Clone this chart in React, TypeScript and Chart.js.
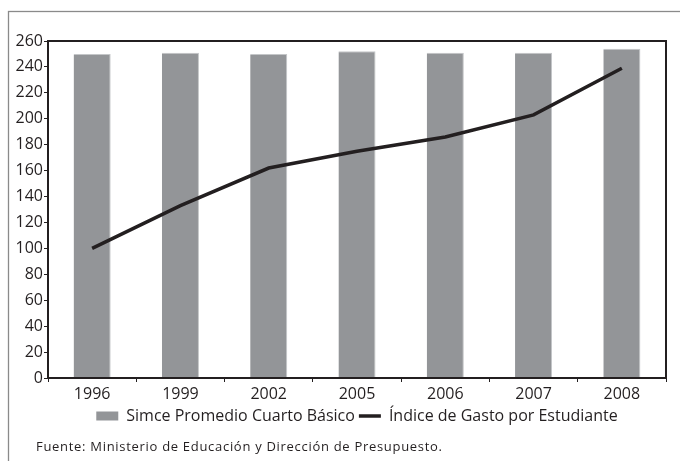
import { useEffect, useRef } from "react";
import { Chart, registerables } from "chart.js";
Chart.register(...registerables);

const years = ["1996", "1999", "2002", "2005", "2006", "2007", "2008"];
const simce = [250, 251, 250, 252, 251, 251, 254];
const gasto = [100, 133, 162, 175, 186, 203, 239];
const seriesNames = ["Simce Promedio Cuarto Básico", "Índice de Gasto por Estudiante"];
const footnote = "Fuente: Ministerio de Educación y Dirección de Presupuesto.";

const FONT = "'Open Sans', 'Noto Sans', sans-serif";
const INK = "#231f20";

const decor = {
  id: "decor",
  beforeDraw(chart: any) {
    const ctx = chart.ctx;
    ctx.save();
    ctx.strokeStyle = "#8a8a8a";
    ctx.lineWidth = 1.3;
    ctx.strokeRect(8.5, 11.5, 720, 500);
    ctx.fillStyle = INK;
    ctx.font = "13px " + FONT;
    (ctx as any).letterSpacing = "0.7px";
    ctx.textBaseline = "middle";
    ctx.textAlign = "left";
    ctx.fillText(footnote, 36, 447);
    ctx.restore();
  },
  afterDatasetsDraw(chart: any) {
    const { left, top, right, bottom } = chart.chartArea;
    const ctx = chart.ctx;
    ctx.save();
    ctx.strokeStyle = INK;
    ctx.lineWidth = 2;
    ctx.strokeRect(left, top, right - left, bottom - top);
    ctx.restore();
  },
};

export default function App() {
  const ref = useRef<HTMLCanvasElement | null>(null);
  useEffect(() => {
    if (!ref.current) return;
    const chart = new Chart(ref.current, {
      type: "bar",
      data: {
        labels: years,
        datasets: [
          {
            type: "bar",
            label: seriesNames[0],
            data: simce,
            backgroundColor: "#939598",
            borderColor: "#c4c6c8",
            borderWidth: { top: 1, right: 1, left: 0, bottom: 0 },
            categoryPercentage: 1,
            barPercentage: 0.42,
            order: 1,
          },
          {
            type: "line",
            label: seriesNames[1],
            data: gasto,
            borderColor: INK,
            backgroundColor: INK,
            borderWidth: 3.5,
            pointRadius: 0,
            tension: 0,
            order: 0,
          },
        ],
      },
      options: {
        responsive: false,
        animation: false,
        layout: { padding: { top: 41, right: 14, left: 0, bottom: 27 } },
        plugins: {
          tooltip: { enabled: false },
          legend: {
            position: "bottom",
            fullSize: false,
            labels: {
              usePointStyle: true,
              pointStyleWidth: 22,
              boxHeight: 9,
              padding: 4,
              color: INK,
              font: { family: FONT, size: 16 },
              generateLabels: () => [
                { text: seriesNames[0], fillStyle: "#939598", strokeStyle: "#939598", lineWidth: 0, pointStyle: "rect", hidden: false, datasetIndex: 0, fontColor: INK },
                { text: seriesNames[1], fillStyle: INK, strokeStyle: INK, lineWidth: 3.5, pointStyle: "line", hidden: false, datasetIndex: 1, fontColor: INK },
              ],
            },
          },
        },
        scales: {
          x: {
            offset: true,
            afterFit: (s: any) => { s.height = 26; },
            grid: { display: true, offset: true, drawOnChartArea: false, drawTicks: true, tickLength: 4, color: INK },
            border: { display: true, color: INK, width: 2 },
            ticks: { color: INK, font: { family: FONT, size: 16 }, padding: 3 },
          },
          y: {
            min: 0,
            max: 260,
            afterFit: (s: any) => { s.width = 48; },
            grid: { display: true, drawOnChartArea: false, drawTicks: true, tickLength: 4, color: INK },
            border: { display: true, color: INK, width: 2 },
            ticks: { stepSize: 20, color: INK, font: { family: FONT, size: 16 }, padding: 1 },
          },
        },
      },
      plugins: [decor],
    });
    return () => chart.destroy();
  }, []);
  return (
    <div style={{ position: "absolute", left: 0, top: 0, width: 680, height: 461 }}>
      <canvas ref={ref} width={680} height={461} />
    </div>
  );
}
